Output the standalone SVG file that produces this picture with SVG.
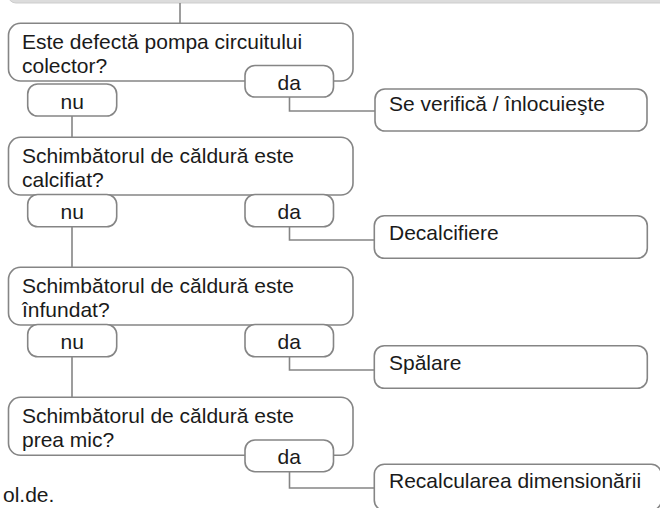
<svg xmlns="http://www.w3.org/2000/svg" width="660" height="508" viewBox="0 0 660 508">
<style>
.box{fill:#fff;stroke:#858585;stroke-width:1.6}
.conn{fill:none;stroke:#858585;stroke-width:1.6}
text{font-family:"Liberation Sans",Arial,sans-serif;font-size:21px;fill:#1a1a1a}
.c{text-anchor:middle}
</style>
<rect x="8" y="-30" width="700" height="33" rx="8" fill="#dcdcdc" stroke="#cdcdcd" stroke-width="1"/>
<g id="connectors">
<path class="conn" d="M180 3V23"/>
<path class="conn" d="M72 116V137"/>
<path class="conn" d="M72 227V267"/>
<path class="conn" d="M72 357V397"/>
<path class="conn" d="M289.5 97V111H375"/>
<path class="conn" d="M289.5 227V240H374"/>
<path class="conn" d="M289.5 357V370H374"/>
<path class="conn" d="M289.5 472V488H374"/>
</g>
<g id="q1"><rect class="box" x="8.5" y="23.3" width="344.5" height="57.7" rx="12"/>
<text x="22" y="49">Este defectă pompa circuitului</text><text x="22" y="73">colector?</text></g>
<g id="q1-nu"><rect class="box" x="27.7" y="84" width="89" height="32" rx="10"/><text class="c" x="72.2" y="109">nu</text></g>
<g id="q1-da"><rect class="box" x="245" y="65.5" width="88.5" height="31.5" rx="10"/><text class="c" x="289.3" y="90">da</text></g>
<g id="a1"><rect class="box" x="375" y="89" width="272" height="42" rx="10"/><text x="389" y="110.7">Se verifică / înlocuieşte</text></g>

<g id="q2"><rect class="box" x="8.5" y="137.3" width="344.5" height="57.7" rx="12"/>
<text x="22" y="163.3">Schimbătorul de căldură este</text><text x="22" y="186.7">calcifiat?</text></g>
<g id="q2-nu"><rect class="box" x="27.7" y="194.5" width="89" height="32.3" rx="10"/><text class="c" x="72.2" y="218.5">nu</text></g>
<g id="q2-da"><rect class="box" x="245" y="194.5" width="88.5" height="32.3" rx="10"/><text class="c" x="289.3" y="218.5">da</text></g>
<g id="a2"><rect class="box" x="374.3" y="215.7" width="273" height="42.6" rx="10"/><text x="389" y="240">Decalcifiere</text></g>

<g id="q3"><rect class="box" x="8.5" y="267.3" width="344.5" height="57.7" rx="12"/>
<text x="22" y="293.3">Schimbătorul de căldură este</text><text x="22" y="316.7">înfundat?</text></g>
<g id="q3-nu"><rect class="box" x="27.7" y="324.5" width="89" height="32.3" rx="10"/><text class="c" x="72.2" y="348.5">nu</text></g>
<g id="q3-da"><rect class="box" x="245" y="324.5" width="88.5" height="32.3" rx="10"/><text class="c" x="289.3" y="348.5">da</text></g>
<g id="a3"><rect class="box" x="374.3" y="345.7" width="273" height="42.6" rx="10"/><text x="389" y="370">Spălare</text></g>

<g id="q4"><rect class="box" x="8.5" y="397.3" width="344.5" height="58" rx="12"/>
<text x="22" y="423.3">Schimbătorul de căldură este</text><text x="22" y="446.7">prea mic?</text></g>
<g id="q4-da"><rect class="box" x="245" y="440" width="88.5" height="31.7" rx="10"/><text class="c" x="289.3" y="464">da</text></g>
<g id="a4"><rect class="box" x="374.3" y="464.3" width="287" height="46" rx="10"/><text x="389" y="488">Recalcularea dimensionării</text></g>

<text x="3" y="502">ol.de.</text>
</svg>
